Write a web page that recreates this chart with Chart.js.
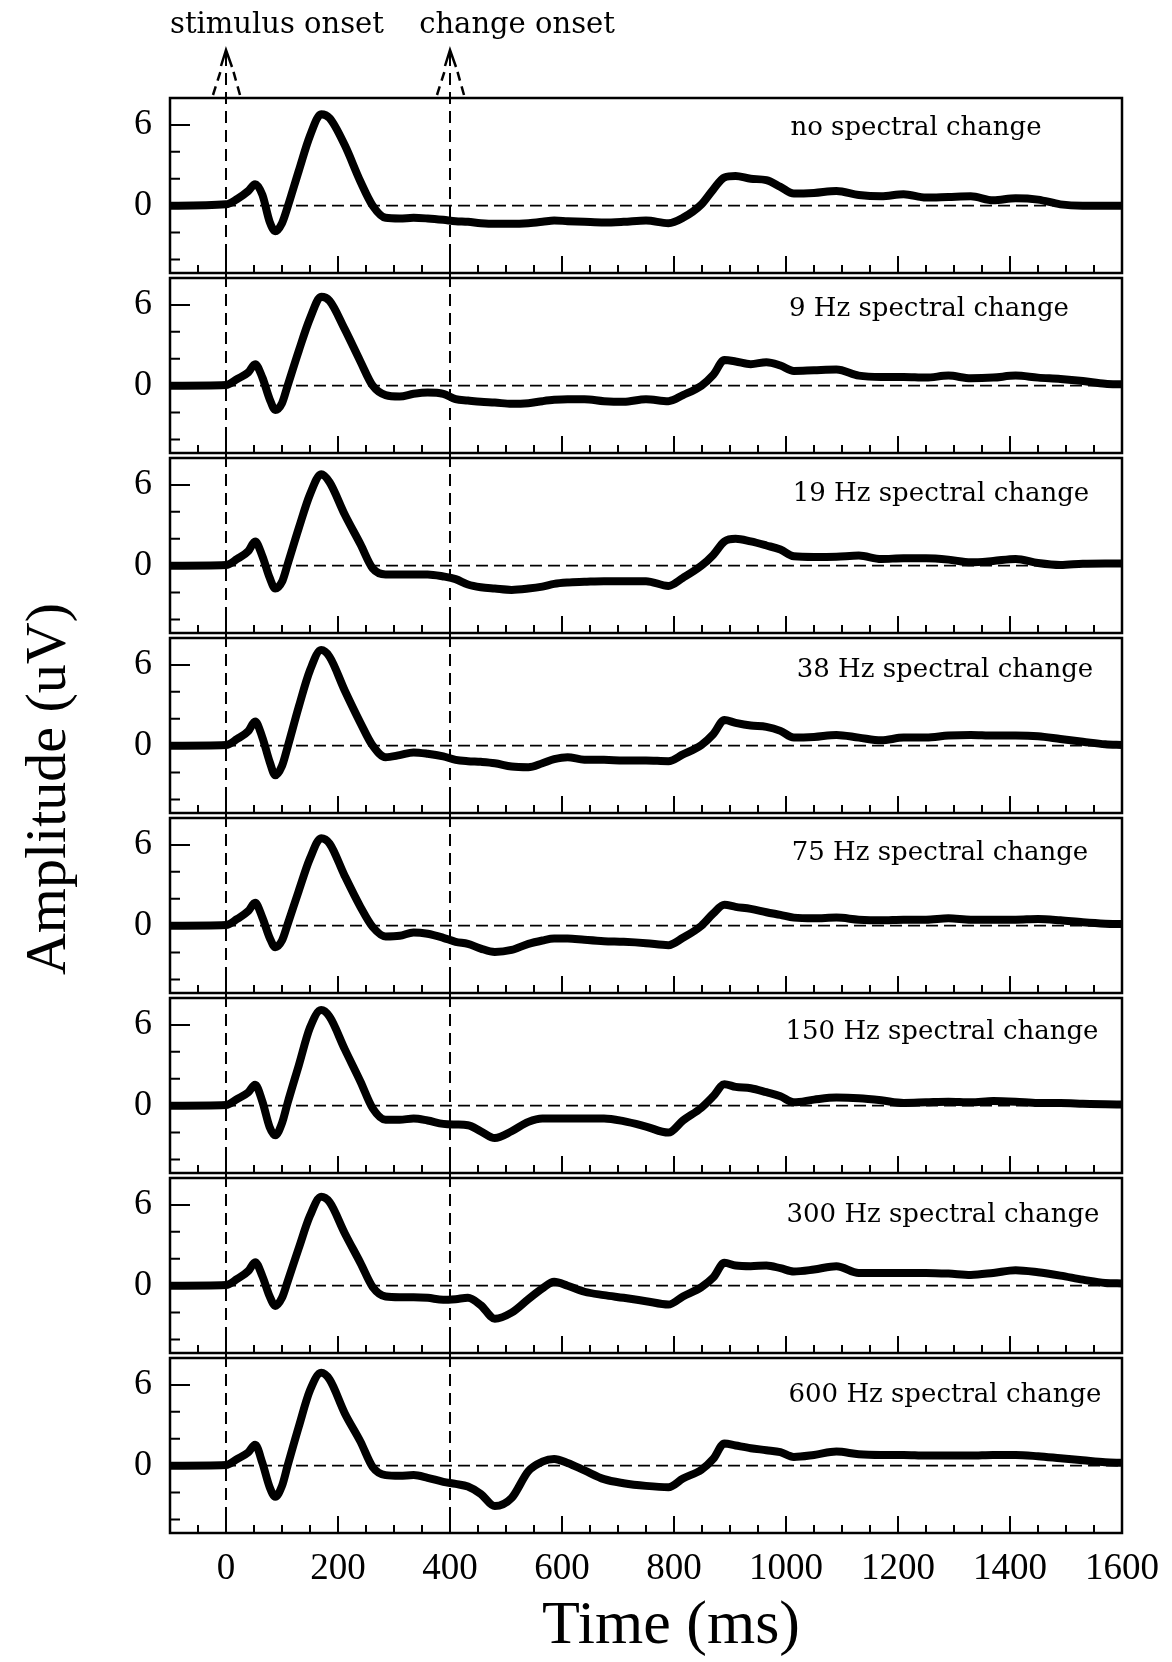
<!DOCTYPE html>
<html>
<head>
<meta charset="utf-8">
<script src="https://cdn.jsdelivr.net/npm/chart.js@4/dist/chart.umd.min.js"></script>
<style>
    html, body { margin: 0; padding: 0; background: #fff; }
    #wrap { position: relative; width: 1172px; height: 1662px; overflow: hidden; background: #fff; }
    #wrap canvas { position: absolute; left: 0; }
    #ylab {
        position: absolute; left: 46px; top: 789px;
        transform: translate(-50%, -50%) rotate(-90deg);
        font: 58px "Liberation Serif", serif; line-height: 1;
        white-space: nowrap; color: #000;
    }
</style>
</head>
<body>
<div id="wrap"><div id="ylab">Amplitude (uV)</div></div>
<script>
// time axis (ms), shared by all eight traces
const times = [-100, 0, 20, 40, 52, 65, 78, 88, 100, 110, 130, 150, 170, 185, 212, 240, 262, 285, 310, 335,
    360, 388, 410, 432, 455, 480, 510, 540, 565, 586, 610, 640, 675, 710, 750, 790, 816, 849, 870, 890,
    910, 937, 965, 990, 1014, 1050, 1090, 1130, 1170, 1210, 1250, 1290, 1330, 1370, 1410, 1450, 1490, 1530, 1570, 1600];

// amplitude (uV) per condition
const noChange = [0, 0.1, 0.5, 1.1, 1.6, 0.8, -1.2, -1.9, -1.3, -0.1, 2.6, 5.2, 6.8, 6.5, 4.5, 1.8, 0.0, -0.9, -0.95, -0.9,
    -0.95, -1.05, -1.15, -1.2, -1.3, -1.35, -1.35, -1.3, -1.2, -1.1, -1.15, -1.2, -1.25, -1.2, -1.1, -1.3, -0.9, 0.1, 1.2, 2.1,
    2.2, 2.0, 1.9, 1.4, 0.9, 0.95, 1.1, 0.8, 0.7, 0.85, 0.6, 0.65, 0.7, 0.4, 0.55, 0.45, 0.1, 0.0, 0.0, 0.0];
const hz9 = [0, 0.05, 0.5, 1.0, 1.6, 0.6, -1.0, -1.8, -1.3, 0.0, 2.6, 5.0, 6.6, 6.3, 4.2, 1.8, 0.0, -0.7, -0.8, -0.6,
    -0.5, -0.6, -1.0, -1.1, -1.2, -1.25, -1.35, -1.3, -1.15, -1.05, -1.0, -1.0, -1.15, -1.2, -1.0, -1.15, -0.7, 0.0, 0.8, 1.9,
    1.8, 1.6, 1.75, 1.5, 1.1, 1.15, 1.2, 0.75, 0.65, 0.65, 0.6, 0.75, 0.55, 0.6, 0.75, 0.6, 0.5, 0.35, 0.15, 0.1];
const hz19 = [0, 0.05, 0.5, 1.1, 1.8, 0.7, -0.9, -1.7, -1.2, 0.1, 2.8, 5.3, 6.8, 6.2, 3.8, 1.6, -0.2, -0.65, -0.65, -0.65,
    -0.65, -0.8, -1.0, -1.4, -1.6, -1.7, -1.8, -1.7, -1.55, -1.35, -1.25, -1.2, -1.15, -1.15, -1.15, -1.5, -0.9, 0.0, 0.8, 1.8,
    2.0, 1.8, 1.5, 1.2, 0.7, 0.65, 0.67, 0.75, 0.5, 0.55, 0.55, 0.45, 0.25, 0.35, 0.5, 0.2, 0.05, 0.15, 0.17, 0.17];
const hz38 = [0, 0.05, 0.5, 1.1, 1.8, 0.6, -1.2, -2.2, -1.5, -0.1, 2.9, 5.6, 7.1, 6.6, 4.1, 1.7, 0.0, -0.85, -0.7, -0.5,
    -0.6, -0.8, -1.05, -1.15, -1.2, -1.3, -1.55, -1.6, -1.3, -1.0, -0.85, -1.05, -1.05, -1.1, -1.1, -1.15, -0.65, 0.05, 0.85, 1.9,
    1.7, 1.5, 1.4, 1.1, 0.6, 0.65, 0.8, 0.6, 0.4, 0.6, 0.6, 0.75, 0.8, 0.75, 0.75, 0.7, 0.5, 0.3, 0.1, 0.05];
const hz75 = [0, 0.05, 0.5, 1.1, 1.7, 0.6, -0.9, -1.6, -1.1, 0.1, 2.6, 5.0, 6.5, 6.1, 3.7, 1.4, -0.1, -0.8, -0.75, -0.5,
    -0.6, -0.9, -1.2, -1.35, -1.7, -1.95, -1.8, -1.35, -1.1, -0.95, -0.95, -1.05, -1.15, -1.2, -1.3, -1.45, -0.9, 0.0, 0.9, 1.55,
    1.4, 1.25, 1.0, 0.8, 0.6, 0.55, 0.6, 0.45, 0.4, 0.45, 0.45, 0.55, 0.45, 0.45, 0.45, 0.5, 0.4, 0.25, 0.15, 0.13];
const hz150 = [0, 0.05, 0.5, 1.0, 1.55, 0.3, -1.6, -2.2, -1.3, 0.2, 3.0, 5.8, 7.1, 6.6, 4.2, 1.8, -0.2, -1.05, -1.05, -0.95,
    -1.1, -1.35, -1.4, -1.45, -1.9, -2.4, -1.9, -1.2, -0.95, -0.95, -0.95, -0.95, -0.95, -1.15, -1.55, -2.0, -1.1, -0.15, 0.7, 1.6,
    1.4, 1.3, 1.0, 0.7, 0.25, 0.45, 0.6, 0.55, 0.4, 0.2, 0.25, 0.3, 0.25, 0.35, 0.3, 0.2, 0.2, 0.15, 0.1, 0.08];
const hz300 = [0, 0.05, 0.5, 1.1, 1.75, 0.7, -0.8, -1.5, -0.9, 0.3, 2.8, 5.2, 6.6, 6.2, 3.9, 1.7, -0.1, -0.8, -0.85, -0.85,
    -0.9, -1.05, -1.0, -0.9, -1.45, -2.45, -2.0, -1.0, -0.2, 0.3, 0.0, -0.45, -0.7, -0.9, -1.15, -1.4, -0.8, -0.1, 0.6, 1.7,
    1.5, 1.45, 1.5, 1.3, 1.05, 1.2, 1.45, 0.95, 0.95, 0.95, 0.95, 0.9, 0.8, 0.95, 1.15, 1.0, 0.75, 0.45, 0.2, 0.17];
const hz600 = [0, 0.05, 0.5, 1.0, 1.55, 0.2, -1.6, -2.3, -1.5, 0.0, 2.9, 5.6, 6.9, 6.4, 3.9, 1.8, -0.1, -0.7, -0.75, -0.7,
    -0.9, -1.2, -1.35, -1.55, -2.1, -3.0, -2.4, -0.4, 0.3, 0.5, 0.2, -0.35, -1.0, -1.3, -1.5, -1.6, -0.95, -0.3, 0.5, 1.65,
    1.5, 1.3, 1.15, 1.0, 0.65, 0.8, 1.05, 0.85, 0.8, 0.8, 0.75, 0.75, 0.75, 0.8, 0.8, 0.7, 0.55, 0.4, 0.25, 0.22];

const panelNames = ['no spectral change', '9 Hz spectral change', '19 Hz spectral change', '38 Hz spectral change',
    '75 Hz spectral change', '150 Hz spectral change', '300 Hz spectral change', '600 Hz spectral change'];
const panelSeries = [noChange, hz9, hz19, hz38, hz75, hz150, hz300, hz600];

const xLabelTicks = [0, 200, 400, 600, 800, 1000, 1200, 1400, 1600];
const yLabelTicks = [6, 0];
const yMarkTicks = [-4, -2, 0, 2, 4, 6];
const onsets = [0, 400];
const onsetNames = ['stimulus onset', 'change onset'];

// page layout (px)
const W = 1172, H = 1662;
const PLOT_L = 170, PLOT_R = 1122;
const TOP0 = 98, STEP = 180, PANEL_H = 175;
const labelCx = [916, 929, 941, 945, 940, 942, 943, 945];
const labelDy = [30, 31, 36, 32, 35, 34, 37, 37];
const onsetTextCx = [277, 517];
const ARROW_TIP = 50;

// drop the extra room chart.js keeps for edge tick labels
function noScalePadding(s) {
    s.paddingTop = 0;
    s.paddingBottom = 0;
    s.paddingLeft = 0;
    s.paddingRight = 0;
}

const panelDecor = {
    id: 'panelDecor',
    beforeDatasetsDraw(chart, args, opts) {
        const { ctx, chartArea: a, scales: { x, y } } = chart;
        ctx.save();
        ctx.strokeStyle = '#000';

        // zero line
        const y0 = y.getPixelForValue(0);
        ctx.lineWidth = 1.8;
        ctx.setLineDash([12, 6]);
        ctx.beginPath();
        ctx.moveTo(a.left, y0);
        ctx.lineTo(a.right, y0);
        ctx.stroke();

        // onset markers run through every panel
        ctx.lineWidth = 2;
        ctx.setLineDash([12, 7]);
        onsets.forEach(t => {
            const px = x.getPixelForValue(t);
            ctx.beginPath();
            ctx.moveTo(px, opts.first ? ARROW_TIP + 4 : 0);
            ctx.lineTo(px, opts.last ? a.bottom : chart.height);
            ctx.stroke();
        });
        ctx.setLineDash([]);

        // inward tick marks
        ctx.lineWidth = 2;
        ctx.beginPath();
        for (let t = -50; t < 1600; t += 50) {
            const px = x.getPixelForValue(t);
            const len = t % 200 === 0 ? 17 : 8;
            ctx.moveTo(px, a.bottom);
            ctx.lineTo(px, a.bottom - len);
        }
        yMarkTicks.forEach(v => {
            const py = y.getPixelForValue(v);
            const len = yLabelTicks.includes(v) ? 20 : 10;
            ctx.moveTo(a.left, py);
            ctx.lineTo(a.left + len, py);
        });
        ctx.stroke();
        ctx.restore();
    },
    afterDatasetsDraw(chart, args, opts) {
        const { ctx, chartArea: a, scales: { x } } = chart;
        ctx.save();
        ctx.strokeStyle = '#000';
        ctx.fillStyle = '#000';

        // frame
        ctx.lineWidth = 2.5;
        ctx.strokeRect(a.left, a.top, a.right - a.left, a.bottom - a.top);

        // condition label
        ctx.font = '26px "DejaVu Serif", serif';
        ctx.textAlign = 'center';
        ctx.textBaseline = 'middle';
        ctx.fillText(opts.label, opts.labelX, a.top + opts.labelDy);

        if (opts.first) {
            // dashed arrows and captions above the top panel
            onsets.forEach((t, k) => {
                const px = x.getPixelForValue(t);
                ctx.lineWidth = 2.5;
                ctx.setLineDash([]);
                ctx.beginPath();
                ctx.moveTo(px - 5, ARROW_TIP + 16);
                ctx.lineTo(px, ARROW_TIP);
                ctx.lineTo(px + 6, ARROW_TIP + 17);
                ctx.stroke();
                ctx.setLineDash([9, 6]);
                ctx.beginPath();
                ctx.moveTo(px - 13, a.top - 3);
                ctx.lineTo(px - 5, ARROW_TIP + 20);
                ctx.moveTo(px + 14, a.top - 3);
                ctx.lineTo(px + 7, ARROW_TIP + 20);
                ctx.stroke();
                ctx.setLineDash([]);
                ctx.font = '29px "DejaVu Serif", serif';
                ctx.textBaseline = 'alphabetic';
                ctx.fillText(onsetNames[k], onsetTextCx[k], 33);
            });
        }
        if (opts.last) {
            ctx.font = '62px "Liberation Serif", serif';
            ctx.textAlign = 'center';
            ctx.textBaseline = 'middle';
            ctx.fillText('Time (ms)', 671, a.bottom + 94);
        }
        ctx.restore();
    }
};

const wrap = document.getElementById('wrap');

panelSeries.forEach((vals, i) => {
    const first = i === 0;
    const last = i === panelSeries.length - 1;
    const plotTop = TOP0 + STEP * i;
    const plotBottom = plotTop + PANEL_H;
    const canvasTop = first ? 0 : plotTop - 3;
    const canvasBottom = last ? H : plotTop + STEP - 3;

    const canvas = document.createElement('canvas');
    canvas.width = W;
    canvas.height = canvasBottom - canvasTop;
    canvas.style.top = canvasTop + 'px';
    wrap.appendChild(canvas);

    new Chart(canvas, {
        type: 'line',
        data: {
            datasets: [{
                data: times.map((t, k) => ({ x: t, y: vals[k] })),
                borderColor: '#000',
                borderWidth: 8,
                borderJoinStyle: 'round',
                borderCapStyle: 'round',
                cubicInterpolationMode: 'monotone',
                pointRadius: 0,
                fill: false
            }]
        },
        options: {
            responsive: false,
            animation: false,
            devicePixelRatio: 1,
            layout: {
                padding: {
                    left: 0,
                    right: W - PLOT_R,
                    top: plotTop - canvasTop,
                    bottom: last ? 0 : canvasBottom - plotBottom
                }
            },
            plugins: {
                legend: { display: false },
                tooltip: { enabled: false },
                panelDecor: {
                    first, last,
                    label: panelNames[i],
                    labelX: labelCx[i],
                    labelDy: labelDy[i]
                }
            },
            scales: {
                x: {
                    type: 'linear',
                    min: -100,
                    max: 1600,
                    display: last,
                    grid: { display: false },
                    border: { display: false },
                    afterBuildTicks: s => { s.ticks = xLabelTicks.map(v => ({ value: v })); },
                    afterFit: s => { s.height = last ? H - plotBottom : 0; noScalePadding(s); },
                    ticks: {
                        autoSkip: false,
                        maxRotation: 0,
                        padding: 6,
                        color: '#000',
                        font: { family: 'Liberation Serif', size: 37 },
                        callback: v => String(v)
                    }
                },
                y: {
                    min: -5,
                    max: 8,
                    grid: { display: false },
                    border: { display: false },
                    afterBuildTicks: s => { s.ticks = yLabelTicks.map(v => ({ value: v })); },
                    afterFit: s => { s.width = PLOT_L; noScalePadding(s); },
                    ticks: {
                        padding: 10,
                        color: '#000',
                        font: { family: 'Liberation Serif', size: 36 },
                        callback: v => String(v)
                    }
                }
            }
        },
        plugins: [panelDecor]
    });
});
</script>
</body>
</html>
